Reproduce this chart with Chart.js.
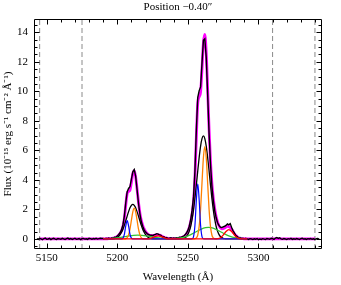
<!DOCTYPE html>
<html>
<head>
<meta charset="utf-8">
<script src="https://cdn.jsdelivr.net/npm/chart.js@4.4.1/dist/chart.umd.min.js"></script>
<style>
	html, body { margin: 0; padding: 0; background: #fff; }
</style>
</head>
<body>
<canvas id="myChart" width="341" height="285"></canvas>
<script>
// axis ticks
const xTickValues = [5150, 5200, 5250, 5300]
const xTickLabels = ['5150', '5200', '5250', '5300']
const yTickValues = [0, 2, 4, 6, 8, 10, 12, 14]
const yTickLabels = ['0', '2', '4', '6', '8', '10', '12', '14']

// continuum windows (dashed)
const windowEdges = [5145, 5175, 5310, 5340]

// observed spectrum, 1 A steps
const leftStart = 5143
const fluxLeft = [0.02, -0.03, 0.04, 0.01, -0.05, 0.03, 0.06, -0.02, 0.00, 0.04, -0.04, 0.02, 0.05, -0.01, -0.03, 0.03,
	0.01, -0.02, 0.04, 0.00, -0.04, 0.02, 0.06, -0.01, 0.03, -0.03, 0.01, 0.05, -0.02, 0.00, 0.03, -0.04, 0.02, 0.04,
	-0.01, 0.01, -0.03, 0.05, 0.02, -0.02, 0.03, 0.00, 0.04, -0.01, 0.02, 0.05, 0.03]
const lineStart = 5190
const fluxLines = [
	0.04, -0.01, 0.05, 0.02, 0.06, 0.01, 0.07, 0.05, 0.12, 0.10,
	0.21, 0.30, 0.42, 0.62, 0.95, 1.55, 2.45, 3.20, 3.42, 3.55,
	4.05, 4.55, 4.70, 4.25, 3.35, 2.42, 1.70, 1.18, 0.86, 0.62,
	0.47, 0.37, 0.30, 0.27, 0.25, 0.22, 0.28, 0.31, 0.36, 0.33,
	0.27, 0.24, 0.14, 0.15, 0.06, 0.10, 0.02, 0.06, 0.08, 0.03,
	0.07, 0.04, 0.09, 0.06, 0.11, 0.10, 0.16, 0.19, 0.28, 0.40,
	0.58, 0.86, 1.30, 1.95, 2.85, 4.60, 7.40, 9.60, 10.05, 10.30,
	11.90, 13.45, 13.55, 12.30, 9.80, 7.20, 5.10, 3.60, 2.62, 1.92,
	1.45, 1.10, 0.92, 0.80, 0.78, 0.82, 0.86, 0.92, 1.02, 0.96,
	1.04, 0.78, 0.55, 0.40, 0.22, 0.16, 0.07, 0.09, 0.02, 0.05,
	-0.01, 0.04, 0.01, -0.03, 0.02, 0.00]
const rightStart = 5296
const fluxRight = [-0.04, 0.01, -0.02, 0.03, -0.05, 0.00, -0.03, 0.02, -0.01, -0.04, 0.03, 0.01, -0.02, 0.05, 0.02, -0.03,
	0.06, 0.10, 0.04, 0.08, 0.01, -0.02, 0.03, 0.00, -0.04, 0.02, -0.01, 0.04, -0.03, 0.01, -0.02, 0.03, 0.00, -0.04,
	0.02, 0.05, -0.01, 0.01, -0.03, 0.02, 0.00, 0.03, -0.02, 0.01, -0.04, 0.02, 0.03, -0.01]

// total fit (magenta)
const contWave = [5145, 5340]
const fitStart = 5190
const fitFlux = [
	0.006, 0.009, 0.011, 0.015, 0.021, 0.028, 0.038, 0.054, 0.078, 0.116,
	0.171, 0.264, 0.389, 0.570, 0.847, 1.384, 2.299, 3.074, 3.21, 3.316,
	3.835, 4.426, 4.62, 4.206, 3.38, 2.49, 1.766, 1.26, 0.924, 0.685,
	0.508, 0.386, 0.298, 0.251, 0.231, 0.233, 0.249, 0.270, 0.283, 0.281,
	0.258, 0.216, 0.166, 0.117, 0.077, 0.051, 0.034, 0.024, 0.020, 0.020,
	0.023, 0.030, 0.035, 0.047, 0.064, 0.085, 0.114, 0.162, 0.234, 0.348,
	0.513, 0.792, 1.167, 1.71, 2.541, 4.152, 6.897, 9.222, 9.63, 9.948,
	11.505, 13.278, 13.86, 12.618, 10.14, 7.47, 5.298, 3.78, 2.772, 2.055,
	1.524, 1.158, 0.894, 0.753, 0.693, 0.699, 0.747, 0.81, 0.849, 0.843,
	0.774, 0.648, 0.498, 0.351, 0.231, 0.144, 0.087, 0.051, 0.033, 0.018,
	0.015, 0.009, 0.006, 0.006, 0.003, 0.003]

// fit components
const blueWave = [5190, 5202, 5203, 5204, 5205, 5206, 5207, 5208, 5209, 5210, 5211, 5212,
	5252, 5253, 5254, 5255, 5256, 5257, 5258, 5259, 5260, 5261, 5262, 5292]
const blueFlux = [0, 0, 0.005, 0.055, 0.31, 0.88, 1.25, 0.88, 0.31, 0.055, 0.005, 0,
	0, 0.015, 0.16, 0.93, 2.64, 3.74, 2.64, 0.93, 0.16, 0.015, 0, 0]

const orangeWave = [5190, 5204, 5205, 5206, 5207, 5208, 5209, 5210, 5211, 5212, 5213, 5214, 5215, 5216, 5217, 5218, 5219, 5220,
	5254, 5255, 5256, 5257, 5258, 5259, 5260, 5261, 5262, 5263, 5264, 5265, 5266, 5267, 5268, 5269, 5270, 5292]
const orangeFlux = [0, 0, 0.005, 0.023, 0.09, 0.28, 0.68, 1.27, 1.84, 2.09, 1.84, 1.27, 0.68, 0.28, 0.09, 0.023, 0.005, 0,
	0, 0.014, 0.07, 0.27, 0.85, 2.03, 3.80, 5.52, 6.26, 5.52, 3.80, 2.03, 0.85, 0.27, 0.07, 0.014, 0, 0]

const narrowWave = [5190, 5195, 5196, 5197, 5198, 5199, 5200, 5201, 5202, 5203, 5204, 5205, 5206, 5207, 5208, 5209, 5210, 5211,
	5212, 5213, 5214, 5215, 5216, 5217, 5218, 5219, 5220, 5221, 5222, 5223, 5224, 5225, 5226, 5227,
	5245, 5246, 5247, 5248, 5249, 5250, 5251, 5252, 5253, 5254, 5255, 5256, 5257, 5258, 5259, 5260, 5261,
	5262, 5263, 5264, 5265, 5266, 5267, 5268, 5269, 5270, 5271, 5272, 5273, 5274, 5275, 5276, 5277, 5292]
const narrowFlux = [0, 0.003, 0.007, 0.015, 0.030, 0.057, 0.10, 0.18, 0.29, 0.45, 0.66, 0.92, 1.23, 1.55, 1.85, 2.11, 2.28, 2.34,
	2.28, 2.11, 1.85, 1.55, 1.23, 0.92, 0.66, 0.45, 0.29, 0.18, 0.10, 0.057, 0.030, 0.015, 0.007, 0.003,
	0.009, 0.021, 0.044, 0.089, 0.17, 0.31, 0.53, 0.86, 1.34, 1.97, 2.76, 3.66, 4.62, 5.53, 6.29, 6.80, 6.98,
	6.80, 6.29, 5.53, 4.62, 3.66, 2.76, 1.97, 1.34, 0.86, 0.53, 0.31, 0.17, 0.089, 0.044, 0.021, 0.009, 0]

const greenWave = [5190.5, 5193.5, 5196.5, 5199.5, 5202.5, 5205.5, 5208.5, 5211.5, 5214.5, 5217.5, 5220.5, 5223.5,
	5226.5, 5229.5, 5232.5, 5235.5, 5238.5, 5241.5, 5244.5, 5247.5, 5250.5, 5253.5, 5256.5, 5259.5, 5262.5, 5264.5,
	5266.5, 5269.5, 5272.5, 5275.5, 5278.5, 5281.5, 5284.5, 5287.5, 5290.5]
const greenFlux = [0.007, 0.017, 0.035, 0.065, 0.107, 0.158, 0.208, 0.246, 0.26, 0.246, 0.208, 0.158,
	0.107, 0.065, 0.035, 0.021, 0.020, 0.033, 0.066, 0.131, 0.232, 0.370, 0.525, 0.668, 0.761, 0.78,
	0.761, 0.668, 0.525, 0.370, 0.232, 0.131, 0.066, 0.030, 0.012]

const redWave = [5190, 5220, 5221, 5223, 5225, 5227, 5229, 5231, 5233, 5235, 5237, 5238,
	5270, 5271, 5273, 5275, 5277, 5279, 5281, 5283, 5285, 5287, 5288, 5292]
const redFlux = [0, 0, 0.006, 0.028, 0.086, 0.168, 0.21, 0.168, 0.086, 0.028, 0.006, 0,
	0, 0.018, 0.085, 0.259, 0.505, 0.63, 0.505, 0.259, 0.085, 0.018, 0, 0]

const xMin = 5141, xMax = 5345
const yMin = -0.68, yMax = 14.9

function zip(waves, vals) {
	return waves.map((w, i) => ({x: w, y: vals[i]}))
}
function fromStart(start, vals) {
	return vals.map((v, i) => ({x: start + i, y: v}))
}

const serif = "'Liberation Serif', 'Times New Roman', serif"
Chart.defaults.font.family = serif
Chart.defaults.font.size = 11
Chart.defaults.color = '#000'

function curve(data, color, width, order) {
	return {
		data: data,
		borderColor: color,
		borderWidth: width,
		pointRadius: 0,
		showLine: true,
		fill: false,
		cubicInterpolationMode: 'monotone',
		clip: 0,
		order: order
	}
}

const datasets = []
windowEdges.forEach(w => {
	const d = curve([{x: w, y: yMin}, {x: w, y: yMax}], '#8a8a8a', 1, 20)
	d.borderDash = [5, 3]
	d.cubicInterpolationMode = 'default'
	datasets.push(d)
})
datasets.push(curve([{x: contWave[0], y: 0}, ...fromStart(fitStart, fitFlux), {x: contWave[1], y: 0}], '#ff00ff', 2.8, 10))
const obs = [...fromStart(leftStart, fluxLeft), ...fromStart(lineStart, fluxLines), ...fromStart(rightStart, fluxRight)]
const obsSet = curve(obs, '#000', 1.4, 9)
obsSet.cubicInterpolationMode = 'default'
datasets.push(obsSet)
datasets.push(curve(zip(narrowWave, narrowFlux), '#000', 1.3, 5))
datasets.push(curve(zip(greenWave, greenFlux), '#33c433', 1.3, 4))
datasets.push(curve(zip(orangeWave, orangeFlux), '#ff8000', 1.3, 3))
datasets.push(curve(zip(blueWave, blueFlux), '#0000ff', 1.2, 2))
datasets.push(curve(zip(redWave, redFlux), '#ff0000', 1.3, 1))

// frame with inward major/minor ticks on all four sides
const frameTicks = {
	id: 'frameTicks',
	afterDraw(chart) {
		const {ctx, chartArea: a} = chart
		const xs = chart.scales.x, ys = chart.scales.y
		const L = a.left + 0.5, R = a.right - 0.5, T = a.top + 0.5, B = a.bottom - 0.5
		ctx.save()
		ctx.strokeStyle = '#000'
		ctx.lineWidth = 1
		ctx.beginPath()
		ctx.rect(L, T, R - L, B - T)
		for (let i = 0; 5150 + i * 10 <= xMax; i++) {
			const v = 5150 + i * 10
			const px = Math.round(xs.getPixelForValue(v)) + 0.5
			const len = xTickValues.includes(v) ? 5 : 3
			ctx.moveTo(px, B); ctx.lineTo(px, B - len)
			ctx.moveTo(px, T); ctx.lineTo(px, T + len)
		}
		for (let i = -1; i * 0.5 <= yMax; i++) {
			const v = i * 0.5
			const py = Math.round(ys.getPixelForValue(v)) + 0.5
			const len = yTickValues.includes(v) ? 5 : 3
			ctx.moveTo(L, py); ctx.lineTo(L + len, py)
			ctx.moveTo(R, py); ctx.lineTo(R - len, py)
		}
		ctx.stroke()
		ctx.restore()
	}
}

const ctx = document.getElementById('myChart')
var chart = new Chart(ctx, {
	type: 'scatter',
	data: {datasets: datasets},
	plugins: [frameTicks],
	options: {
		responsive: false,
		animation: false,
		layout: {padding: {left: 0, right: 19, top: 0, bottom: 0}},
		plugins: {
			legend: {display: false},
			tooltip: {enabled: false},
			title: {
				display: true,
				text: 'Position \u22120.40\u2033',
				fullSize: false,
				color: '#000',
				font: {family: serif, size: 11, weight: 'normal'},
				padding: {top: 0.5, bottom: 5.3}
			}
		},
		scales: {
			x: {
				type: 'linear',
				min: xMin,
				max: xMax,
				grid: {display: false, drawTicks: false},
				border: {display: false},
				afterBuildTicks: s => { s.ticks = xTickValues.map(v => ({value: v})) },
				afterFit: s => { s.height = 36 },
				ticks: {
					padding: 3,
					maxRotation: 0,
					autoSkip: false,
					callback: v => xTickLabels[xTickValues.indexOf(v)]
				},
				title: {
					display: true,
					text: 'Wavelength (\u00c5)',
					padding: {top: 0, bottom: 1.4}
				}
			},
			y: {
				type: 'linear',
				min: yMin,
				max: yMax,
				grid: {display: false, drawTicks: false},
				border: {display: false},
				afterBuildTicks: s => { s.ticks = yTickValues.map(v => ({value: v})) },
				afterFit: s => { s.width = 34 },
				ticks: {
					padding: 6,
					autoSkip: false,
					callback: v => yTickLabels[yTickValues.indexOf(v)]
				},
				title: {
					display: true,
					text: 'Flux (10\u207b\u00b9\u2075 erg s\u207b\u00b9 cm\u207b\u00b2 \u00c5\u207b\u00b9)',
					padding: {top: 2, bottom: 0}
				}
			}
		}
	}
})
</script>
</body>
</html>
